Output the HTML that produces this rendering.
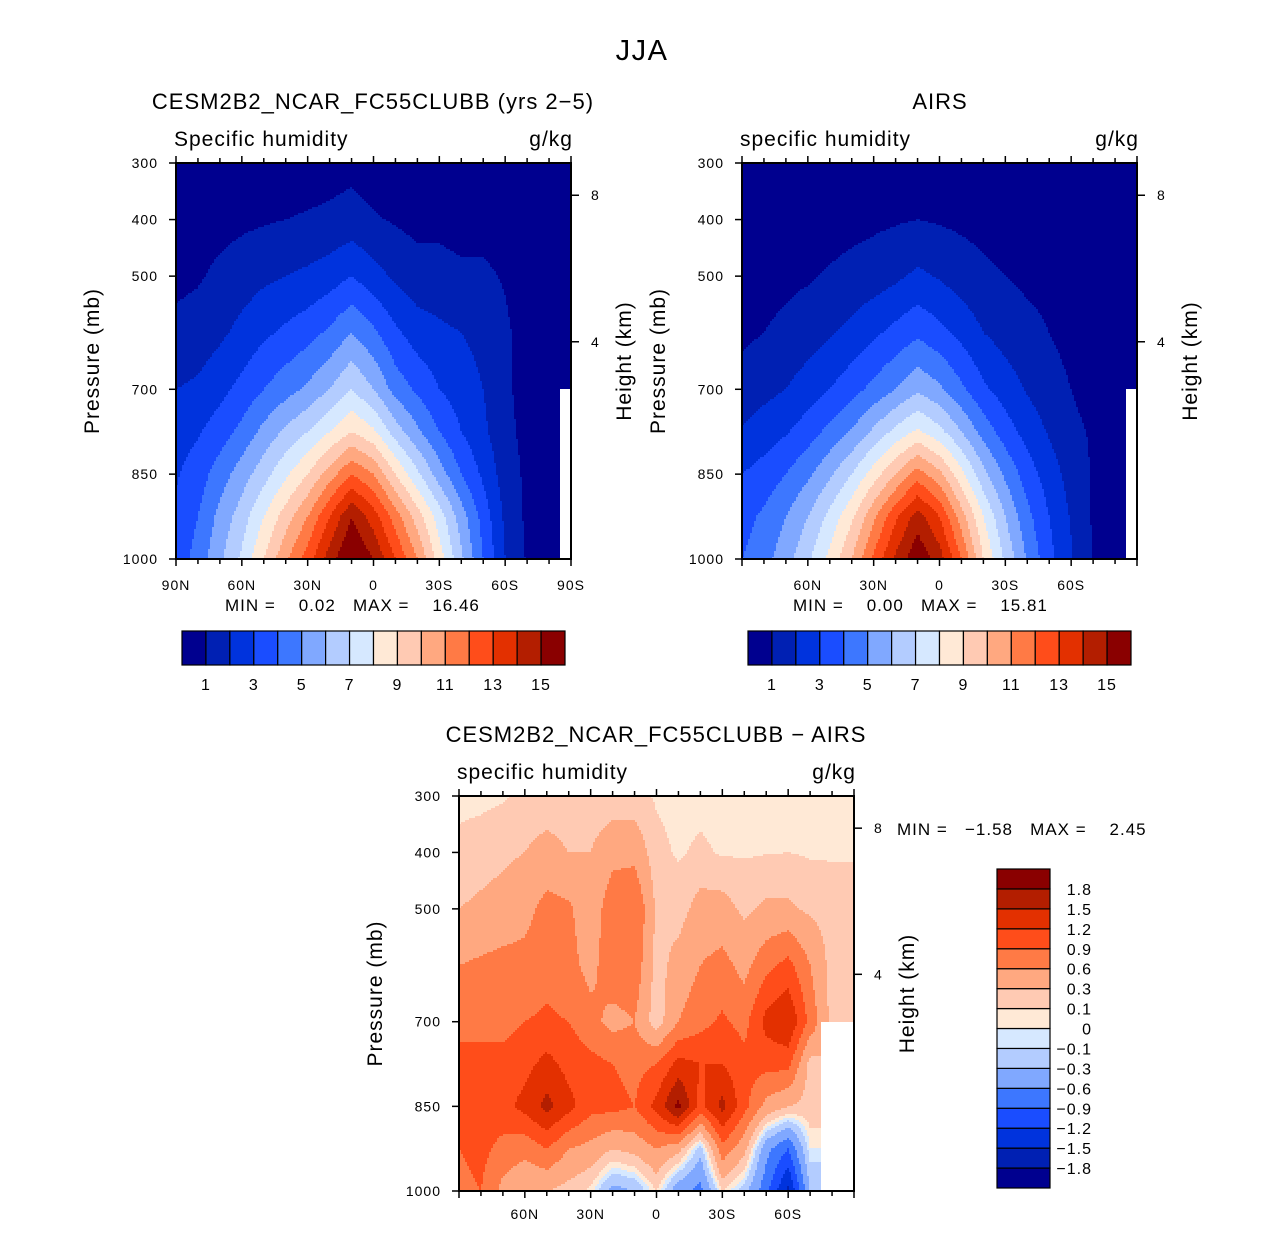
<!DOCTYPE html>
<html><head><meta charset="utf-8">
<style>
body{margin:0;background:#fff;}
svg text{font-family:"Liberation Sans",sans-serif;fill:#000;}
</style></head>
<body>
<svg id="fig" width="1285" height="1230" xmlns="http://www.w3.org/2000/svg">
<text x="642" y="60" font-size="29" text-anchor="middle" letter-spacing="1.5">JJA</text>
</svg>
<script>
// ---------- data ----------
const lats = [90,80,70,60,50,40,30,20,10,0,-10,-20,-30,-40,-50,-60,-70,-80,-90];
const plevs = [300,400,500,600,700,775,850,925,1000];
const N = null;
const modelQ = [
[0.3,0.6,0.8,1.2,2.0,2.5,2.9,3.2,3.4],
[0.3,0.6,0.9,1.4,2.2,2.9,3.5,4.0,4.4],
[0.3,0.7,1.2,1.8,2.7,3.5,4.5,5.3,5.8],
[0.3,0.8,1.5,2.3,3.3,4.3,5.5,6.5,7.2],
[0.4,0.9,1.8,2.8,4.0,5.3,6.6,8.0,9.0],
[0.4,1.0,2.0,3.2,4.6,6.2,7.8,9.5,10.8],
[0.5,1.1,2.2,3.6,5.2,7.0,9.0,11.0,12.5],
[0.6,1.2,2.5,4.2,6.0,8.0,10.5,13.0,14.5],
[0.7,1.4,3.0,5.0,7.0,9.0,12.0,15.0,16.2],
[0.5,1.1,2.4,4.2,6.0,8.2,11.0,13.5,15.0],
[0.4,0.9,1.8,3.2,4.6,6.5,9.0,11.5,13.0],
[0.3,0.7,1.4,2.5,3.8,5.2,7.2,9.5,11.0],
[0.3,0.7,1.4,2.2,3.0,4.0,5.5,7.5,8.5],
[0.3,0.6,1.2,2.0,2.5,3.0,4.0,5.5,6.2],
[0.3,0.6,1.2,1.7,2.0,2.2,2.8,3.6,4.0],
[0.2,0.5,0.9,1.2,1.2,1.3,1.5,1.8,2.0],
[0.1,0.2,0.3,0.5,0.6,0.7,0.8,0.8,0.9],
[0.05,0.1,0.15,0.2,0.3,0.4,0.4,0.5,0.5],
[0.05,0.1,0.15,0.2,0.3,N,N,N,N]];
const airsQ = [
[0.3,0.5,0.7,0.8,1.4,2.1,3.0,3.6,4.0],
[0.3,0.5,0.7,1.0,1.7,2.5,3.4,4.2,4.6],
[0.3,0.5,0.8,1.2,2.0,2.9,4.0,5.0,5.6],
[0.3,0.6,0.9,1.5,2.5,3.5,4.8,6.0,6.8],
[0.3,0.6,1.1,1.9,3.0,4.3,5.8,7.3,8.3],
[0.3,0.7,1.3,2.3,3.6,5.1,7.0,8.8,10.0],
[0.4,0.8,1.5,2.8,4.3,6.2,8.5,10.8,12.2],
[0.4,0.9,1.8,3.3,5.0,7.3,10.0,12.8,14.2],
[0.5,1.0,2.2,3.8,5.8,8.2,11.5,14.5,15.8],
[0.4,0.9,1.9,3.3,5.2,7.3,10.3,13.0,14.5],
[0.4,0.8,1.5,2.7,4.2,6.0,8.3,10.5,12.0],
[0.3,0.7,1.2,2.0,3.2,4.6,6.3,8.0,9.0],
[0.3,0.6,1.0,1.6,2.5,3.5,4.8,6.0,6.8],
[0.3,0.5,0.8,1.3,1.9,2.6,3.5,4.3,4.9],
[0.2,0.4,0.7,1.0,1.4,1.9,2.5,3.0,3.3],
[0.2,0.3,0.5,0.7,1.0,1.2,1.6,1.9,2.1],
[0.1,0.2,0.3,0.5,0.7,0.9,0.9,0.9,0.9],
[0.1,0.1,0.2,0.3,0.4,0.5,0.5,0.6,0.6],
[0.1,0.1,0.2,0.3,0.3,N,N,N,N]];
const diffQ = [
[0.05,0.15,0.3,0.6,0.8,1.0,1.0,0.9,0.8],
[0.05,0.2,0.35,0.65,0.8,1.0,1.0,1.0,0.9],
[0.08,0.25,0.4,0.7,0.8,1.0,1.1,0.8,0.5],
[0.15,0.3,0.5,0.7,0.9,1.1,1.3,0.7,0.3],
[0.15,0.4,0.7,0.8,0.95,1.3,1.6,0.9,0.3],
[0.15,0.3,0.65,0.7,0.9,1.1,1.3,0.6,0.2],
[0.15,0.3,0.4,0.5,0.7,1.0,1.0,0.5,0.05],
[0.15,0.5,0.8,0.8,0.5,0.9,1.0,0.3,-0.4],
[0.15,0.5,0.9,0.8,0.6,0.8,0.9,0.4,-0.3],
[0.08,0.15,0.25,0.2,0.15,0.9,1.3,0.6,0.1],
[0.05,0.08,0.2,0.4,0.6,1.3,1.9,0.4,-0.5],
[0.05,0.13,0.4,0.6,0.8,1.2,1.1,-0.2,-0.7],
[0.05,0.08,0.4,0.7,0.95,1.2,1.6,0.8,0.1],
[0.05,0.08,0.25,0.5,0.8,1.0,1.0,0.4,-0.2],
[0.05,0.09,0.35,0.8,1.3,1.0,0.5,-0.5,-0.8],
[0.05,0.1,0.35,1.0,1.5,1.0,0.3,-0.9,-1.6],
[0.05,0.08,0.25,0.6,0.8,0.2,0.2,0.0,-0.3],
[0.05,0.08,0.2,0.2,0.2,N,N,N,N],
[0.05,0.08,0.2,0.2,0.2,N,N,N,N]];
const qLevels = [1,2,3,4,5,6,7,8,9,10,11,12,13,14,15];
const qLabels = ["1","3","5","7","9","11","13","15"];
const dLevels = [-1.8,-1.5,-1.2,-0.9,-0.6,-0.3,-0.1,0,0.1,0.3,0.6,0.9,1.2,1.5,1.8];
const dLabels = ["-1.8","-1.5","-1.2","-0.9","-0.6","-0.3","-0.1","0","0.1","0.3","0.6","0.9","1.2","1.5","1.8"];
const pTicks = [300,400,500,700,850,1000];
const latTicks = [90,60,30,0,-30,-60,-90];
const colors = ['#00008f','#0020b3','#0033dd','#1a4dff','#3d77ff','#80a8ff','#b3ccff','#d6e8ff','#ffe9d6','#ffcab3','#ffa880','#ff7a45','#ff4d1a','#e33000','#b31e00','#8a0000'];

const NS='http://www.w3.org/2000/svg';
const svg=document.getElementById('fig');
function mk(tag,attrs,parent){const e=document.createElementNS(NS,tag);for(const k in attrs)e.setAttribute(k,attrs[k]);(parent||svg).appendChild(e);return e;}
function txt(x,y,s,size,anchor,parent){const t=mk('text',{x:x,y:y,'font-size':size,'text-anchor':anchor||'start','letter-spacing':'1'},parent);t.textContent=s.replace(/-/g,'\u2212');return t;}
function latLabel(l){return l===0?'0':(Math.abs(l)+(l>0?'N':'S'));}
function levelIdx(v,levels){let i=0;while(i<levels.length&&v>=levels[i])i++;return i;}

function interp(data,lat,p){
  let li=0;while(li<lats.length-2&&lat<lats[li+1])li++;
  let pi=0;while(pi<plevs.length-2&&p>plevs[pi+1])pi++;
  const fx=(lats[li]-lat)/(lats[li]-lats[li+1]);
  const fy=(p-plevs[pi])/(plevs[pi+1]-plevs[pi]);
  const vals=[data[li][pi],data[li+1][pi],data[li][pi+1],data[li+1][pi+1]];
  const w=[(1-fx)*(1-fy),fx*(1-fy),(1-fx)*fy,fx*fy];
  const ix=fx<0.5?0:1;
  if(vals[ix]===null||vals[2+ix]===null)return null;
  let s=0,ws=0;
  for(let k=0;k<4;k++){if(vals[k]!==null){s+=vals[k]*w[k];ws+=w[k];}}
  return ws>0?s/ws:null;
}

function panel(o){
  const g=mk('g',{});
  const x0=o.x0,x1=o.x1,y0=o.y0,y1=o.y1;
  const xs=lat=>x0+(90-lat)/180*(x1-x0);
  const ys=p=>y0+(p-300)/700*(y1-y0);
  const field=mk('g',{'shape-rendering':'crispEdges'},g);
  
  
  const step=2;
  function flush(xa,xb,y,col){
    if(col===undefined||xb<=xa)return;
    const r=mk('rect',{x:xa,y:y,width:xb-xa,height:Math.min(step,y1-y),fill:col},field);
    
    
  }
  for(let y=y0;y<y1;y+=step){
    const p=300+(y+step/2-y0)/(y1-y0)*700;
    let runStart=x0,runCol=undefined;
    for(let x=x0;x<x1;x+=step){
      const lat=90-(Math.min(x+step/2,x1)-x0)/(x1-x0)*180;
      const v=interp(o.data,lat,p);
      const col=v===null?'#fff':colors[levelIdx(v,o.levels)];
      if(col!==runCol){flush(runStart,x,y,runCol);runStart=x;runCol=col;}
    }
    flush(runStart,x1,y,runCol);
  }
  const fr=mk('rect',{x:x0,y:y0,width:x1-x0,height:y1-y0,fill:'none',stroke:'#000','stroke-width':2},g);
  
  for(let l=90;l>=-90;l-=10){
    const x=xs(l),maj=(l%30===0);
    mk('line',{x1:x,x2:x,y1:y1,y2:y1+(maj?7:5),stroke:'#000','stroke-width':1.5},g);
    mk('line',{x1:x,x2:x,y1:y0,y2:y0-(maj?7:5),stroke:'#000','stroke-width':1.5},g);
  }
  latTicks.forEach(l=>{if(o.skipEnds&&Math.abs(l)===90)return;const t=txt(xs(l),y1+31+(o.tickDy||0),latLabel(l),14,'middle',g);});
  pTicks.forEach(p=>{mk('line',{x1:x0-7,x2:x0,y1:ys(p),y2:ys(p),stroke:'#000','stroke-width':1.5},g);const t=txt(x0-18,ys(p)+5,String(p),14,'end',g);});
  [[8,357],[4,616]].forEach(h=>{const y=ys(h[1]);mk('line',{x1:x1,x2:x1+8,y1:y,y2:y,stroke:'#000','stroke-width':1.5},g);const t=txt(x1+20,y+5,String(h[0]),14,'start',g);});
  let t=txt(0,0,'Pressure (mb)',21,'middle',g);t.setAttribute('transform',`translate(${x0-77},${(y0+y1)/2}) rotate(-90)`);
  t=txt(0,0,'Height (km)',21,'middle',g);t.setAttribute('transform',`translate(${x1+60},${(y0+y1)/2}) rotate(-90)`);
  t=txt(x0-2,y0-17,o.left,21,'start',g);
  t=txt(x1+2,y0-17,'g/kg',21,'end',g);
  t=txt(o.titleX,y0-54,o.title,22,'middle',g);
  t=txt(o.mmX,o.mmY,o.mm,17,'start',g);t.setAttribute('xml:space','preserve');t.style.whiteSpace='pre';
}

function hbar(x0,y0,w,h,name){
  const g=mk('g',{});
  const bw=w/colors.length;
  colors.forEach((c,i)=>{const r=mk('rect',{x:x0+i*bw,y:y0,width:bw,height:h,fill:c,stroke:'#000','stroke-width':1.2},g);});
  qLabels.forEach((s,i)=>{const t=txt(x0+(1+2*i)*bw,y0+h+25,s,16,'middle',g);});
}
function vbar(x0,y0,w,h,name){
  const g=mk('g',{});
  const bh=h/colors.length;
  colors.forEach((c,i)=>{const r=mk('rect',{x:x0,y:y0+h-(i+1)*bh,width:w,height:bh,fill:c,stroke:'#000','stroke-width':1.2},g);});
  dLabels.forEach((s,i)=>{const t=txt(x0+w+42,y0+h-(i+1)*bh+6,s,16,'end',g);});
}

panel({name:'model-panel',data:modelQ,levels:qLevels,x0:176,x1:571,y0:163,y1:559,left:'Specific humidity',title:'CESM2B2_NCAR_FC55CLUBB (yrs 2-5)',titleX:373,mm:'MIN =    0.02   MAX =    16.46',mmX:225,mmY:611});
panel({name:'airs-panel',data:airsQ,levels:qLevels,x0:742,x1:1137,y0:163,y1:559,left:'specific humidity',title:'AIRS',titleX:940,mm:'MIN =    0.00   MAX =    15.81',mmX:793,mmY:611,skipEnds:true});
panel({name:'diff-panel',data:diffQ,levels:dLevels,x0:459,x1:854,y0:796,y1:1191,left:'specific humidity',title:'CESM2B2_NCAR_FC55CLUBB - AIRS',titleX:656,mm:'MIN =   -1.58   MAX =    2.45',mmX:897,mmY:835,skipEnds:true,tickDy:-3});
hbar(182,631,383,34,'model-colorbar');
hbar(748,631,383,34,'airs-colorbar');
vbar(997,869,53,319,'diff-colorbar');
</script>
</body></html>
